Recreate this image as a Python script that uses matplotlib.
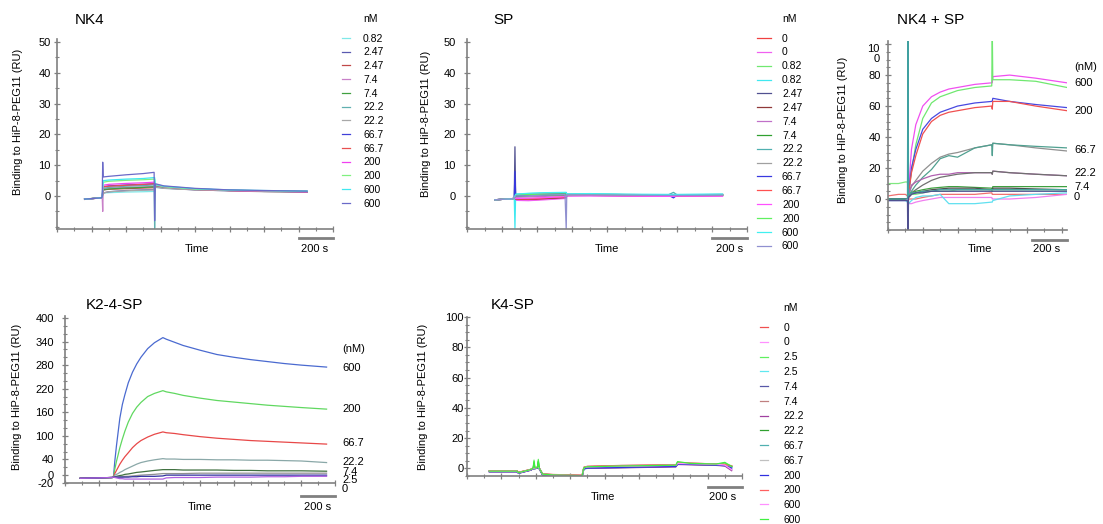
import matplotlib
matplotlib.use("Agg")
import matplotlib.pyplot as plt
from matplotlib.ticker import MultipleLocator

plt.rcParams['font.family'] = ['Liberation Sans', 'DejaVu Sans']
plt.rcParams['axes.unicode_minus'] = False

W, H = 1103, 524
AXIS_GRAY = '#808080'
YLABEL = 'Binding to HiP-8-PEG11 (RU)'

# ---------------- NK4 ----------------
nk4_t = [160, 255, 262, 265, 268, 300, 400, 500, 563, 566, 570, 620, 800, 1000, 1200, 1450]
nk4_labels = ['0.82', '2.47', '2.47', '7.4', '7.4', '22.2', '22.2', '66.7', '66.7', '200', '200', '600', '600']
nk4_colors = ['#7fe8e8', '#5a5ab0', '#c04848', '#c880c8', '#40a040', '#60b0b0', '#a8a8a8',
              '#4040d8', '#e85050', '#f040f0', '#80f080', '#40e8f0', '#6a6ac8']
nk4_curves = [
    [-1.0, -0.6, -0.3, 0.5, 1.0, 1.1, 1.3, 1.4, 1.5, 1.5, 2.8, 2.5, 2.1, 1.8, 1.6, 1.4],
    [-1.0, -0.6, -0.3, 0.5, 1.0, 1.4, 1.8, 2.0, 2.1, 2.1, 3.0, 2.6, 2.0, 1.7, 1.5, 1.3],
    [-1.1, -0.6, -0.3, 1.0, 2.0, 2.2, 2.4, 2.6, 2.7, 2.7, 3.1, 2.7, 2.1, 1.8, 1.5, 1.3],
    [-1.0, -0.6, -0.3, -5.0, 2.3, 2.6, 2.8, 3.0, 3.1, 3.1, 3.2, 2.8, 2.1, 1.8, 1.6, 1.4],
    [-1.0, -0.5, -0.3, 1.0, 2.0, 2.3, 2.6, 2.8, 3.0, 3.0, 3.3, 2.8, 2.2, 1.8, 1.6, 1.5],
    [-1.0, -0.6, -0.3, 1.2, 2.5, 2.8, 3.2, 3.4, 3.6, -10.5, 3.4, 2.9, 2.3, 1.9, 1.7, 1.5],
    [-1.0, -0.6, -0.3, 0.3, 1.0, 1.4, 1.7, 1.9, 2.0, 2.0, 2.9, 2.5, 2.0, 1.7, 1.4, 1.2],
    [-1.0, -0.6, -0.3, 1.5, 3.0, 3.3, 3.6, 3.8, 4.0, 4.0, 3.6, 3.0, 2.3, 1.9, 1.6, 1.4],
    [-1.0, -0.6, -0.3, 1.5, 3.0, 3.2, 3.5, 3.8, 4.0, 4.0, 3.5, 3.0, 2.2, 1.8, 1.6, 1.4],
    [-1.0, -0.6, -0.3, 2.0, 3.5, 3.8, 4.1, 4.3, 4.5, 4.5, 3.6, 3.0, 2.2, 1.8, 1.6, 1.4],
    [-1.0, -0.6, -0.3, 2.5, 4.5, 4.8, 5.1, 5.3, 5.5, 5.5, 3.7, 3.0, 2.2, 1.9, 1.7, 1.5],
    [-1.0, -0.6, -0.3, 2.5, 5.0, 5.2, 5.5, 5.7, 6.0, 6.0, 3.8, 3.2, 2.4, 2.0, 1.8, 1.6],
    [-1.0, -0.6, -0.3, 11.0, 6.2, 6.4, 6.9, 7.3, 7.7, -8.0, 4.0, 3.3, 2.5, 2.0, 1.8, 1.6],
]

# ---------------- SP ----------------
sp_t = [160, 260, 270, 274, 278, 350, 450, 560, 567, 570, 575, 700, 900, 1150, 1180, 1200, 1460]
sp_labels = ['0', '0', '0.82', '0.82', '2.47', '2.47', '7.4', '7.4', '22.2', '22.2',
             '66.7', '66.7', '200', '200', '600', '600']
sp_colors = ['#f04040', '#f060f0', '#70e870', '#40e8f0', '#505090', '#903838', '#c070c8', '#30a030',
             '#50b0b0', '#a0a0a0', '#3838e0', '#ff5050', '#ff50ff', '#60f060', '#40f0f0', '#9090d0']
sp_curves = [
    [-1.2, -0.9, -0.6, -0.9, -1.2, -1.3, -1.0, -0.6, -0.5, 0.1, 0.2, 0.3, 0.2, 0.1, 0.1, 0.1, 0.2],
    [-1.2, -0.9, -0.6, -0.9, -1.4, -1.5, -1.2, -0.8, -0.7, -0.1, 0.0, 0.1, 0.0, -0.1, -0.1, -0.1, 0.0],
    [-1.2, -0.9, -0.6, -0.2, 0.2, 0.3, 0.4, 0.5, 0.5, 0.4, 0.4, 0.5, 0.4, 0.3, 0.3, 0.3, 0.4],
    [-1.2, -0.9, -0.6, -10.5, 0.6, 0.8, 1.0, 1.1, 1.1, 0.6, 0.6, 0.7, 0.5, 0.5, 0.5, 0.5, 0.6],
    [-1.2, -0.9, -0.6, 16.0, 0.0, 0.2, 0.5, 0.9, 1.0, 0.5, 0.5, 0.5, 0.4, 0.3, 0.3, 0.3, 0.4],
    [-1.2, -0.9, -0.6, -0.8, -1.0, -1.0, -0.8, -0.5, -0.4, 0.1, 0.2, 0.2, 0.1, 0.1, 0.1, 0.1, 0.2],
    [-1.2, -0.9, -0.6, -0.5, -0.4, -0.3, -0.1, 0.1, 0.2, 0.2, 0.3, 0.3, 0.2, 0.1, 0.1, 0.1, 0.2],
    [-1.2, -0.9, -0.6, -0.3, 0.0, 0.1, 0.3, 0.4, 0.5, 0.3, 0.3, 0.4, 0.3, 0.2, 0.2, 0.2, 0.3],
    [-1.2, -0.9, -0.6, -0.2, 0.3, 0.5, 0.7, 0.8, 0.8, 0.5, 0.5, 0.6, 0.5, 0.4, 1.2, 0.4, 0.5],
    [-1.2, -0.9, -0.6, -0.1, 0.5, 0.7, 0.9, 1.0, 1.0, 0.6, 0.6, 0.6, 0.5, 0.4, 0.4, 0.4, 0.5],
    [-1.2, -0.9, -0.6, 8.0, 0.1, 0.3, 0.5, 0.8, 0.9, 0.4, 0.4, 0.5, 0.4, 0.3, -0.6, 0.3, 0.4],
    [-1.2, -0.9, -0.6, -0.7, -0.9, -0.9, -0.6, -0.3, -0.2, 0.2, 0.2, 0.3, 0.2, 0.1, 0.1, 0.1, 0.2],
    [-1.2, -0.9, -0.6, -0.6, -0.8, -0.7, -0.5, -0.2, -0.1, 0.0, 0.1, 0.1, 0.0, -0.1, -0.1, 0.0, 0.0],
    [-1.2, -0.9, -0.6, -0.1, 0.3, 0.5, 0.6, 0.7, 0.7, 0.4, 0.4, 0.5, 0.4, 0.3, 0.3, 0.3, 0.4],
    [-1.2, -0.9, -0.6, 0.0, 0.6, 0.9, 1.1, 1.2, 1.2, 0.7, 0.7, 0.8, 0.6, 0.5, 0.5, 0.5, 0.6],
    [-1.2, -0.9, -0.6, -0.4, 0.0, 0.1, 0.3, 0.5, -11.0, 0.4, 0.4, 0.4, 0.3, 0.2, 0.2, 0.2, 0.3],
]

# ---------------- NK4 + SP ----------------
mix_t = [0, 60, 100, 112, 115, 118, 135, 160, 200, 250, 300, 350, 400, 500, 597, 600, 603, 700, 850, 1030]
mix_colors = ['#f050f0', '#70e870', '#4848e0', '#f05050', '#909090', '#50a090', '#b060b0', '#707070',
              '#40a040', '#505050', '#f07070', '#f080f0', '#60e0f0', '#80e880', '#40a0a0', '#505090']
mix_curves = [
    [0, 0, 0, 0, 2, 5, 32, 48, 60, 66, 69, 71, 72, 74, 75, 75, 79, 80, 78, 75],
    [0, 0, 0, 0, 1, 3, 18, 35, 52, 62, 66, 68, 70, 72, 73, 110, 77, 77, 76, 72],
    [0, 0, 0, 0, 1, 3, 20, 32, 45, 52, 56, 58, 60, 62, 63, 63, 65, 63, 61, 59],
    [0, 0, 0, 0, 1, 3, 17, 28, 42, 50, 54, 56, 57, 59, 60, 58, 63, 63, 60, 57],
    [0, 0, 0, 0, 1, 2, 8, 12, 18, 23, 27, 29, 30, 33, 35, 34, 36, 35, 33, 31],
    [0, 0, 0, 0, 1, 2, 5, 9, 14, 19, 26, 28, 27, 33, 35, 28, 36, 35, 34, 33],
    [0, 0, 0, 0, 1, 3, 9, 11, 13, 15, 16, 16, 17, 17, 17, 16, 18, 17, 16, 15],
    [0, 0, 0, 0, 0, 2, 4, 6, 9, 12, 14, 15, 16, 17, 17, 16, 18, 17, 16, 15],
    [0, 0, 0, 0, 0, 2, 4, 5, 6, 7, 7.5, 8, 8, 7.5, 7, 6, 8, 8, 8, 8],
    [0, 0, 0, 0, 0, 1, 3, 4, 5, 6, 6.5, 7, 7, 7, 6, 5, 7, 7, 6.5, 6],
    [2, 3, 3, 2, 1, 0, 0, 0, 1, 2, 3, 3, 3, 3, 4, 3, 3, 3, 3, 3],
    [-1, -1, -1, 0, -2, -3, -3, -2, -1, 0, 1, 1, 1, 1, 1, 0, 0, 0, 1, 3],
    [-1, -1, -1, -2, -3, -3, -1, 1, 2, 2, 3, -3, -3, -3, -2, -2, -1, 2, 3, 4],
    [10, 10, 11, 11, 5, 3, 3, 3, 4, 5, 5, 5, 6, 6, 6, 5, 6, 6, 6, 6],
    [0, 0, 0, 0, 140, 2, 4, 4, 5, 5, 6, 6, 6, 6, 6, 6, 6, 6, 6, 6],
    [-1, -1, -1, -1, -40, 1, 3, 4, 4, 5, 5, 5, 5, 5, 5, 5, 5, 5, 5, 5],
]
mix_right_labels = ['(nM)', '600', '200', '66.7', '22.2', '7.4', '0']

# ---------------- K2-4-SP ----------------
k24_t = [90, 200, 280, 287, 295, 305, 315, 325, 340, 355, 375, 400, 425, 450, 490, 530, 580,
         600, 650, 700, 800, 900, 1000, 1100, 1200, 1300, 1400, 1550]
k24_colors = ['#4a6ad0', '#60d860', '#e84848', '#8aa8a8', '#407040', '#909090', '#3030a0', '#b060e0']
k24_curves = [
    [-8, -7, -6, -5, 35, 75, 110, 145, 180, 205, 235, 262, 283, 300, 322, 337, 350,
     346, 338, 330, 318, 307, 300, 294, 289, 284, 280, 275],
    [-8, -7, -6, -5, 15, 35, 52, 70, 92, 112, 135, 157, 173, 185, 200, 208, 215,
     212, 208, 203, 196, 190, 186, 182, 178, 175, 172, 168],
    [-8, -7, -6, -5, 4, 12, 20, 28, 38, 47, 57, 70, 80, 88, 97, 104, 110,
     108, 106, 103, 98, 94, 91, 88, 86, 84, 82, 79],
    [-8, -7, -6, -5, 0, 2, 4, 7, 10, 14, 18, 23, 28, 32, 36, 39, 42,
     41, 41, 40, 40, 39, 39, 38, 38, 37, 36, 32],
    [-8, -7, -6, -5, -4, -3, -2, -1, 0, 2, 3, 5, 7, 8, 10, 12, 14,
     14, 14, 13, 13, 13, 12, 12, 11, 11, 11, 10],
    [-8, -7, -6, -5, -5, -5, -5, -4, -4, -3, -3, -2, -1, 0, 1, 2, 4,
     4, 4, 4, 5, 5, 5, 5, 5, 5, 5, 5],
    [-8, -7, -6, -5, -5, -5, -5, -5, -5, -5, -5, -4, -4, -3, -3, -3, -2,
     0, 0, 0, 0, 0, 0, 0, 0, 0, 0, 0],
    [-8, -7, -6, -5, -6, -7, -8, -9, -9, -10, -10, -10, -10, -10, -10, -10, -10,
     -7, -6, -6, -6, -5, -5, -5, -4, -4, -3, -3],
]
k24_right_labels = ['(nM)', '600', '200', '66.7', '22.2', '7.4', '2.5', '0']

# ---------------- K4-SP ----------------
k4_t = [130, 290, 300, 370, 385, 390, 395, 410, 415, 420, 440, 500, 670, 680, 700, 900,
        1200, 1215, 1225, 1300, 1450, 1500, 1540]
k4_labels = ['0', '0', '2.5', '2.5', '7.4', '7.4', '22.2', '22.2', '66.7', '66.7', '200', '200', '600', '600']
k4_colors = ['#f05050', '#ff90ff', '#60f060', '#60e8f0', '#5858a8', '#c08080', '#a040a0', '#30a030',
             '#50b0b0', '#c0c0c0', '#3030e0', '#ff6060', '#ff90ff', '#40f040']
k4_curves = [
    [-1.5, -1.5, -2.5, -0.8, 0.3, 0.3, 0.3, 0.8, 0.8, 0.3, -3.6, -4.0, -4.5, 0.6, 1.2, 1.8, 2.2, 2.2, 3.5, 3.4, 3.0, 2.6, 1.5],
    [-2.0, -2.0, -3.0, -1.0, 0.0, 0.0, 0.0, 0.5, 0.5, 0.0, -4.0, -4.5, -5.0, 0.2, 0.8, 1.2, 1.8, 1.8, 3.2, 3.0, 2.5, 2.0, -1.0],
    [-1.8, -1.8, -2.8, -0.8, 0.2, 5.5, 0.2, 0.6, 6.0, 0.2, -3.8, -4.3, -4.8, 0.4, 1.0, 1.5, 2.0, 2.0, 4.0, 3.2, 2.8, 3.5, 1.0],
    [-2.0, -2.0, -3.0, -1.0, 0.0, 0.0, 0.0, 0.4, 0.4, 0.0, -4.2, -4.6, -5.0, -0.5, 0.0, 0.5, 1.2, 1.2, 2.8, 2.6, 2.2, 1.8, 0.8],
    [-2.2, -2.2, -3.2, -1.2, -0.2, -0.2, -0.2, 0.3, 0.3, -0.2, -4.3, -4.8, -5.2, -0.3, 0.2, 0.6, 1.2, 1.2, 2.8, 2.6, 2.2, 1.8, -0.5],
    [-1.6, -1.6, -2.6, -0.6, 0.4, 0.4, 0.4, 0.9, 0.9, 0.4, -3.6, -4.1, -4.6, 0.8, 1.4, 2.0, 2.4, 2.4, 3.6, 3.4, 3.0, 2.6, 1.8],
    [-2.2, -2.2, -3.2, -1.2, -0.2, -0.2, -0.2, 0.2, 0.2, -0.2, -4.4, -4.9, -5.3, -0.2, 0.2, 0.4, 1.0, 1.0, 2.6, 2.4, 2.0, 1.6, -1.5],
    [-1.8, -1.8, -2.8, -0.9, 0.1, 3.5, 0.1, 0.5, 4.5, 0.1, -3.9, -4.4, -4.9, 0.3, 0.9, 1.4, 1.9, 1.9, 3.4, 3.1, 2.7, 2.3, 1.2],
    [-1.9, -1.9, -2.9, -0.9, 0.1, 0.1, 0.1, 0.5, 0.5, 0.1, -4.1, -4.5, -5.0, 0.0, 0.5, 1.0, 1.5, 1.5, 3.0, 2.8, 2.4, 2.0, 1.0],
    [-1.7, -1.7, -2.7, -0.7, 0.3, 0.3, 0.3, 0.7, 0.7, 0.3, -3.8, -4.2, -4.7, 0.5, 1.1, 1.6, 2.1, 2.1, 3.5, 3.2, 2.8, 2.4, 1.4],
    [-2.1, -2.1, -3.1, -1.1, -0.1, -0.1, -0.1, 0.3, 0.3, -0.1, -4.3, -4.7, -5.1, -0.1, 0.3, 0.7, 1.3, 1.3, 2.9, 2.7, 2.3, 1.9, 0.2],
    [-1.6, -1.6, -2.6, -0.7, 0.3, 0.3, 0.3, 0.8, 0.8, 0.3, -3.7, -4.2, -4.6, 0.7, 1.3, 1.9, 2.3, 2.3, 3.6, 3.4, 3.0, 2.6, 1.6],
    [-1.9, -1.9, -2.9, -0.9, 0.1, 0.1, 0.1, 0.6, 0.6, 0.1, -3.9, -4.4, -4.9, 0.4, 1.0, 1.4, 2.0, 2.0, 3.3, 3.1, 2.7, 2.2, -0.8],
    [-1.8, -1.8, -2.8, -0.8, 0.2, 4.5, 0.2, 0.6, 5.0, 0.2, -3.8, -4.3, -4.8, 0.5, 1.1, 1.6, 2.1, 2.1, 4.5, 3.3, 2.9, 4.0, 1.3],
]


def px_box(left, top, right, bottom):
    return [left / W, 1 - bottom / H, (right - left) / W, (bottom - top) / H]


def fig_text(fig, x, y, s, **kw):
    kw.setdefault('fontsize', 8)
    kw.setdefault('va', 'center')
    fig.text(x / W, 1 - y / H, s, **kw)


def draw_panel(fig, box, t, curves, colors, labels, xmax, ylim, yticks, minor, pad, bar_y):
    ax = fig.add_axes(px_box(*box))
    for vals, c, lab in zip(curves, colors, labels):
        ax.plot(t, vals, color=c, lw=0.9, label=lab)
    ax.set_xlim(0, xmax)
    ax.set_ylim(*ylim)
    ax.set_yticks(yticks)
    ax.yaxis.set_minor_locator(MultipleLocator(minor))
    ax.xaxis.set_major_locator(MultipleLocator(200))
    ax.xaxis.set_minor_locator(MultipleLocator(100))
    ax.tick_params(labelbottom=False)
    for s in ['top', 'right']:
        ax.spines[s].set_visible(False)
    for s in ['left', 'bottom']:
        ax.spines[s].set_color(AXIS_GRAY)
        ax.spines[s].set_linewidth(1.2)
    ax.tick_params(which='both', direction='inout', color=AXIS_GRAY, labelsize=8, pad=pad)
    ax.tick_params(which='major', length=4, width=0.9)
    ax.tick_params(which='minor', length=2.5, width=0.8)
    # 200 s scale bar under the axis
    ax.plot([xmax - 200, xmax], [bar_y, bar_y], transform=ax.get_xaxis_transform(),
            color=AXIS_GRAY, lw=2, clip_on=False)
    return ax


def add_legend(ax, x_handle, y_top, handlelength, textpad, spacing):
    ax.legend(loc='upper left', bbox_to_anchor=(x_handle / W, 1 - y_top / H),
              bbox_transform=ax.figure.transFigure, frameon=False, fontsize=7.5,
              handlelength=handlelength, handletextpad=textpad, labelspacing=spacing,
              borderpad=0, borderaxespad=0)


fig = plt.figure(figsize=(W / 100, H / 100), dpi=100)

# NK4
ax1 = draw_panel(fig, (57, 39, 333, 229), nk4_t, nk4_curves, nk4_colors, nk4_labels,
                 1600, (-10.7, 51), [0, 10, 20, 30, 40, 50], 5, 2.5, -0.047)
add_legend(ax1, 342, 33.6, 0.77, 1.25, 0.36)
fig_text(fig, 75, 20, 'NK4', fontsize=11)
fig_text(fig, 363, 19, 'nM', fontsize=7.5)
fig_text(fig, 18, 122, YLABEL, rotation=90, ha='center')
fig_text(fig, 197, 249, 'Time', ha='center')
fig_text(fig, 315, 249, '200 s', ha='center')

# SP
ax2 = draw_panel(fig, (467, 39, 747, 229), sp_t, sp_curves, sp_colors, sp_labels,
                 1600, (-10.7, 51), [0, 10, 20, 30, 40, 50], 5, 6, -0.047)
add_legend(ax2, 757, 33.6, 1.35, 1.05, 0.37)
fig_text(fig, 493, 20, 'SP', fontsize=11)
fig_text(fig, 782, 19, 'nM', fontsize=7.5)
fig_text(fig, 426, 124, YLABEL, rotation=90, ha='center')
fig_text(fig, 607, 249, 'Time', ha='center')
fig_text(fig, 730, 249, '200 s', ha='center')

# NK4 + SP
ax3 = draw_panel(fig, (888, 41, 1067, 230), mix_t, mix_curves, mix_colors, [None] * len(mix_curves),
                 1030, (-20, 102), [0, 20, 40, 60, 80, 100], 5, 3.2, -0.053)
ax3.set_yticklabels(['0', '20', '40', '60', '80', ''])
ax3.text(-0.045, 100, '10\n0', transform=ax3.get_yaxis_transform(), ha='right', va='top',
         fontsize=8, linespacing=1.0)
fig_text(fig, 897, 20, 'NK4 + SP', fontsize=11)
fig_text(fig, 843, 130, YLABEL, rotation=90, ha='center')
fig_text(fig, 980, 249, 'Time', ha='center')
fig_text(fig, 1047, 249, '200 s', ha='center')
for lab, y in zip(mix_right_labels, [67, 83, 111, 150, 173, 187, 197]):
    fig_text(fig, 1074, y, lab)

# K2-4-SP
ax4 = draw_panel(fig, (65, 316, 335, 483), k24_t, k24_curves, k24_colors, [None] * len(k24_curves),
                 1600, (-20, 405), [-20, 0, 40, 100, 160, 220, 280, 340, 400], 20, 6, -0.079)
fig_text(fig, 86, 305, 'K2-4-SP', fontsize=11)
fig_text(fig, 17, 397, YLABEL, rotation=90, ha='center')
fig_text(fig, 200, 507, 'Time', ha='center')
fig_text(fig, 318, 507, '200 s', ha='center')
for lab, y in zip(k24_right_labels, [349, 368, 409, 443, 462, 472, 480, 489]):
    fig_text(fig, 342, y, lab)

# K4-SP
ax5 = draw_panel(fig, (467, 317, 742, 476), k4_t, k4_curves, k4_colors, k4_labels,
                 1600, (-5, 100), [0, 20, 40, 60, 80, 100], 5, 0.5, -0.069)
add_legend(ax5, 760, 322.6, 0.77, 1.45, 0.46)
fig_text(fig, 491, 305, 'K4-SP', fontsize=11)
fig_text(fig, 783, 308, 'nM', fontsize=7.5)
fig_text(fig, 423, 397, YLABEL, rotation=90, ha='center')
fig_text(fig, 603, 497, 'Time', ha='center')
fig_text(fig, 723, 497, '200 s', ha='center')

fig.savefig('out.png', dpi=100)
